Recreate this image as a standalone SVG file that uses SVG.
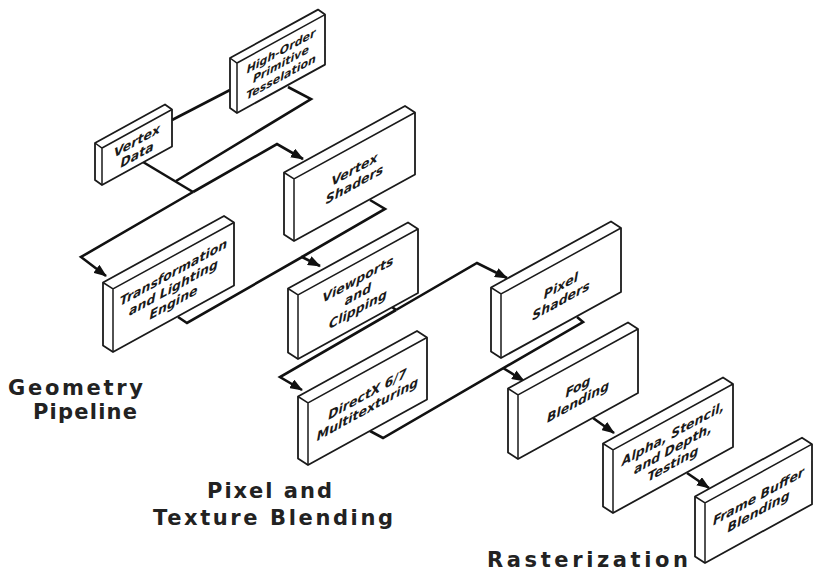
<svg xmlns="http://www.w3.org/2000/svg" width="818" height="575" viewBox="0 0 818 575">
<defs>
<style>
.box{fill:#fff;stroke:#1a1a1a;stroke-width:1.8;stroke-linejoin:round}
.edge{fill:none;stroke:#1a1a1a;stroke-width:1.5}
.lbl{font-family:"DejaVu Sans",Verdana,sans-serif;font-weight:bold;font-style:italic;fill:#1a1a1a;text-anchor:middle}
.big{font-family:"DejaVu Sans",Verdana,sans-serif;font-weight:bold;fill:#222}
.con{fill:none;stroke:#111;stroke-width:2.6;stroke-linejoin:miter}
</style>
<marker id="ah" markerWidth="13" markerHeight="10" refX="12" refY="5" orient="auto" markerUnits="userSpaceOnUse">
<path d="M0,0 L13,5 L0,10 z" fill="#111"/>
</marker>
</defs>
<rect width="818" height="575" fill="#fff"/>

<g id="connectors">
<path class="con" d="M172,120 L230,90"/>
<path class="con" d="M288,87 L311,99 L176,181"/>
<path class="con" d="M143,162 L193,192"/>
<path class="con" d="M193,192 L277,144 L303,159" marker-end="url(#ah)"/>
<path class="con" d="M193,192 L81,257 L106,276" marker-end="url(#ah)"/>
<path class="con" d="M370,200 L385,209 L302,257"/>
<path class="con" d="M178,317 L187,323 L302,257 L320,266" marker-end="url(#ah)"/>
<path class="con" d="M392,307 L396,310"/>
<path class="con" d="M396,310 L280,377 L302,390" marker-end="url(#ah)"/>
<path class="con" d="M396,310 L477,263 L507,278" marker-end="url(#ah)"/>
<path class="con" d="M370,431 L383,438 L583,322 L577,317"/>
<path class="con" d="M503,368 L524,381" marker-end="url(#ah)"/>
<path class="con" d="M593,418 L614,433" marker-end="url(#ah)"/>
<path class="con" d="M687,473 L709,488" marker-end="url(#ah)"/>
</g>

<!-- High-Order Primitive Tesselation: TL(237,63) w88 h50 d(-7,-5) -->
<g id="node-hot">
<path class="box" d="M230,58 L318,9.6 L325,14.6 L325,64.6 L237,113 L230,108 Z"/>
<path class="edge" d="M230,58 L237,63 L325,14.6 M237,63 L237,113"/>
<g transform="translate(281,63.8) skewY(-28.8)">
<text class="lbl" font-size="11" y="-9">High-Order</text>
<text class="lbl" font-size="11" y="4">Primitive</text>
<text class="lbl" font-size="11" y="17">Tesselation</text>
</g>
</g>

<!-- Vertex Data: TL(102,148) w70 h37 -->
<g id="node-vd">
<path class="box" d="M95,143 L165,104.5 L172,109.5 L172,146.5 L102,185 L95,180 Z"/>
<path class="edge" d="M95,143 L102,148 L172,109.5 M102,148 L102,185"/>
<g transform="translate(137,147.5) skewY(-28.8)">
<text class="lbl" font-size="12.5" y="-2.5">Vertex</text>
<text class="lbl" font-size="12.5" y="11.5">Data</text>
</g>
</g>

<!-- Vertex Shaders: TL(294,179) w121 h62 -->
<g id="node-vs">
<path class="box" d="M284,172.5 L405,106 L415,112.5 L415,174.5 L294,241 L284,234.5 Z"/>
<path class="edge" d="M284,172.5 L294,179 L415,112.5 M294,179 L294,241"/>
<g transform="translate(354.5,176.7) skewY(-28.8)">
<text class="lbl" font-size="12.5" y="-3">Vertex</text>
<text class="lbl" font-size="12.5" y="12">Shaders</text>
</g>
</g>

<!-- Transformation and Lighting Engine: TL(113,289) w121 h63 -->
<g id="node-tl">
<path class="box" d="M103,282.5 L224,216 L234,222.5 L234,285.5 L113,352 L103,345.5 Z"/>
<path class="edge" d="M103,282.5 L113,289 L234,222.5 M113,289 L113,352"/>
<g transform="translate(173.5,287.2) skewY(-28.8)">
<text class="lbl" font-size="12.5" y="-10.5">Transformation</text>
<text class="lbl" font-size="12.5" y="4.5">and Lighting</text>
<text class="lbl" font-size="12.5" y="19.5">Engine</text>
</g>
</g>

<!-- Viewports and Clipping: TL(298,295) w120 h64 -->
<g id="node-vp">
<path class="box" d="M288,288.5 L408,222.5 L418,229 L418,293 L298,359 L288,352.5 Z"/>
<path class="edge" d="M288,288.5 L298,295 L418,229 M298,295 L298,359"/>
<g transform="translate(358,294) skewY(-28.8)">
<text class="lbl" font-size="12.5" y="-10.5">Viewports</text>
<text class="lbl" font-size="12.5" y="4.5">and</text>
<text class="lbl" font-size="12.5" y="19.5">Clipping</text>
</g>
</g>

<!-- DirectX 6/7 Multitexturing: TL(308,403) w119 h62 -->
<g id="node-dx">
<path class="box" d="M298,396.5 L417,331 L427,337.5 L427,399.5 L308,465 L298,458.5 Z"/>
<path class="edge" d="M298,396.5 L308,403 L427,337.5 M308,403 L308,465"/>
<g transform="translate(367.5,401.3) skewY(-28.8)">
<text class="lbl" font-size="12.5" y="-3">DirectX 6/7</text>
<text class="lbl" font-size="12.5" y="12">Multitexturing</text>
</g>
</g>

<!-- Pixel Shaders: TL(501,294) w120 h64 -->
<g id="node-ps">
<path class="box" d="M491,287.5 L611,221.5 L621,228 L621,292 L501,358 L491,351.5 Z"/>
<path class="edge" d="M491,287.5 L501,294 L621,228 M501,294 L501,358"/>
<g transform="translate(561,293) skewY(-28.8)">
<text class="lbl" font-size="12.5" y="-3">Pixel</text>
<text class="lbl" font-size="12.5" y="12">Shaders</text>
</g>
</g>

<!-- Fog Blending: TL(518,395) w120 h64 -->
<g id="node-fog">
<path class="box" d="M508,388.5 L628,322.5 L638,329 L638,393 L518,459 L508,452.5 Z"/>
<path class="edge" d="M508,388.5 L518,395 L638,329 M518,395 L518,459"/>
<g transform="translate(578,394) skewY(-28.8)">
<text class="lbl" font-size="12.5" y="-3">Fog</text>
<text class="lbl" font-size="12.5" y="12">Blending</text>
</g>
</g>

<!-- Alpha, Stencil, and Depth, Testing: TL(613,450) w120 h63 -->
<g id="node-asd">
<path class="box" d="M603,443.5 L723,377.5 L733,384 L733,447 L613,513 L603,506.5 Z"/>
<path class="edge" d="M603,443.5 L613,450 L733,384 M613,450 L613,513"/>
<g transform="translate(673,448.5) skewY(-28.8)">
<text class="lbl" font-size="12.5" y="-10.5">Alpha, Stencil,</text>
<text class="lbl" font-size="12.5" y="4.5">and Depth,</text>
<text class="lbl" font-size="12.5" y="19.5">Testing</text>
</g>
</g>

<!-- Frame Buffer Blending: TL(705,503) w107 h60 -->
<g id="node-fb">
<path class="box" d="M695,496.5 L802,437.7 L812,444.2 L812,504.2 L705,563 L695,556.5 Z"/>
<path class="edge" d="M695,496.5 L705,503 L812,444.2 M705,503 L705,563"/>
<g transform="translate(758.5,503.6) skewY(-28.8)">
<text class="lbl" font-size="12.5" y="-3">Frame Buffer</text>
<text class="lbl" font-size="12.5" y="12">Blending</text>
</g>
</g>

<g id="labels">
<text class="big" font-size="21" x="8" y="395" textLength="135" lengthAdjust="spacing">Geometry</text>
<text class="big" font-size="21" x="33" y="419" textLength="104" lengthAdjust="spacing">Pipeline</text>
<text class="big" font-size="21" x="207" y="498" textLength="125" lengthAdjust="spacing">Pixel and</text>
<text class="big" font-size="21" x="153" y="525" textLength="240" lengthAdjust="spacing">Texture Blending</text>
<text class="big" font-size="21" x="487" y="567" textLength="201" lengthAdjust="spacing">Rasterization</text>
</g>
</svg>
